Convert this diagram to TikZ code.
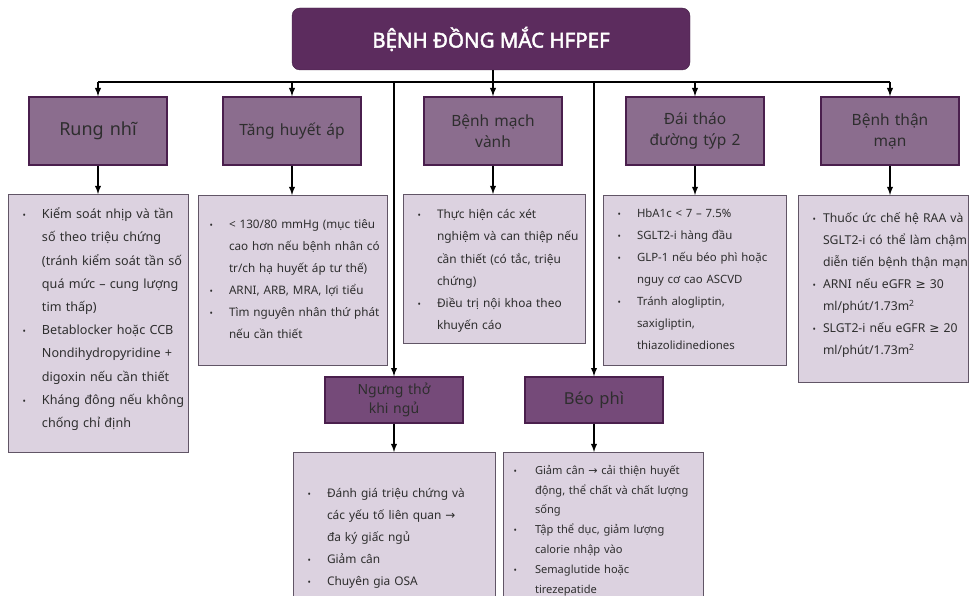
\documentclass[tikz,border=0pt]{standalone}
\usepackage{fontspec}
\setmainfont{Noto Sans}
\newfontfamily\titlefont[FakeBold=2.2]{Noto Sans}
\newfontfamily\symfont{DejaVu Sans}
\usepackage{enumitem}
\setlist[itemize]{nosep,leftmargin=34pt,labelsep=16pt,rightmargin=-30pt,label={\small\textbullet}}
\definecolor{titlepurple}{HTML}{5C2C5E}
\definecolor{headpurple}{HTML}{8B6D8E}
\definecolor{darkhead}{HTML}{754A79}
\definecolor{edgepurple}{HTML}{4A1F4D}
\definecolor{boxfill}{HTML}{DCD2E0}
\definecolor{boxedge}{HTML}{615566}
\definecolor{textgray}{HTML}{2E2E2E}
\newcommand{\toarrow}{{\symfont →}}
\newcommand{\geqsym}{{\symfont ≥}}
\begin{document}
\begin{tikzpicture}[x=1pt, y=-1pt, >=latex,
  title/.style={rectangle, rounded corners=8pt, fill=titlepurple, draw=titlepurple!70!black,
    minimum width=398pt, minimum height=62pt, text=white, font=\fontsize{20.5}{24}\titlefont},
  head/.style={rectangle, fill=headpurple, draw=edgepurple, line width=1.6pt,
    minimum width=138pt, minimum height=68pt, text width=130pt, align=center,
    text=textgray, font=\fontsize{15.5}{21}\selectfont},
  subhead/.style={head, fill=darkhead, minimum height=46pt, font=\fontsize{14}{19}\selectfont},
  info/.style={rectangle, fill=boxfill, draw=boxedge, line width=1pt, anchor=north,
    inner sep=0pt, text=textgray, align=left,
    font=\fontsize{12.6}{22}\selectfont},
  link/.style={line width=1.8pt}]
  \useasboundingbox (0,0) rectangle (970,596);
  \clip (0,0) rectangle (970,596);

  \node[title] (hfpef) at (491,39) {BỆNH ĐỒNG MẮC HFPEF};

  \node[head, font=\fontsize{18}{22}\selectfont] (rung) at (98,131) {Rung nhĩ};
  \node[head] (tha) at (292,131) {Tăng huyết áp};
  \node[head] (mv) at (493,131) {Bệnh mạch\\vành};
  \node[head] (dtd) at (695,131) {Đái tháo\\đường týp 2};
  \node[head] (than) at (890,131) {Bệnh thận\\mạn};
  \node[subhead] (ngung) at (394,400) {Ngưng thở\\khi ngủ};
  \node[subhead, font=\fontsize{16.5}{20}\selectfont] (beo) at (594,400) {Béo phì};

  \node[info, text width=180pt, text height=1pt, text depth=257pt,
    font=\fontsize{12.6}{23.2}\selectfont] (rungC) at (98,194) {%
    \begin{itemize}
    \item Kiểm soát nhịp và tần\\số theo triệu chứng\\(tránh kiểm soát tần số\\quá mức – cung lượng\\tim thấp)
    \item Betablocker hoặc CCB\\Nondihydropyridine +\\digoxin nếu cần thiết
    \item Kháng đông nếu không\\chống chỉ định
    \end{itemize}};
  \node[info, text width=189pt, text height=11pt, text depth=159pt,
    font=\fontsize{11.7}{22}\selectfont] (thaC) at (292.5,195) {%
    \begin{itemize}[leftmargin=31pt]
    \item < 130/80 mmHg (mục tiêu\\cao hơn nếu bệnh nhân có\\tr/ch hạ huyết áp tư thế)
    \item ARNI, ARB, MRA, lợi tiểu
    \item Tìm nguyên nhân thứ phát\\nếu cần thiết
    \end{itemize}};
  \node[info, text width=182pt, text height=2pt, text depth=147pt,
    font=\fontsize{11.9}{22.2}\selectfont] (mvC) at (494,194) {%
    \begin{itemize}
    \item Thực hiện các xét\\nghiệm và can thiệp nếu\\cần thiết (có tắc, triệu\\chứng)
    \item Điều trị nội khoa theo\\khuyến cáo
    \end{itemize}};
  \node[info, text width=183pt, text height=0pt, text depth=170pt,
    font=\fontsize{11.4}{22}\selectfont] (dtdC) at (694.5,195) {%
    \begin{itemize}
    \item HbA1c < 7 – 7.5\%
    \item SGLT2-i hàng đầu
    \item GLP-1 nếu béo phì hoặc\\nguy cơ cao ASCVD
    \item Tránh alogliptin,\\saxigliptin,\\thiazolidinediones
    \end{itemize}};
  \node[info, text width=170pt, text height=5pt, text depth=182pt,
    font=\fontsize{12.2}{22}\selectfont] (thanC) at (883,195) {%
    \begin{itemize}[leftmargin=25pt, labelsep=7pt]
    \item Thuốc ức chế hệ RAA và\\SGLT2-i có thể làm chậm\\diễn tiến bệnh thận mạn
    \item ARNI nếu eGFR \geqsym{} 30\\ml/phút/1.73m\textsuperscript{2}
    \item SLGT2-i nếu eGFR \geqsym{} 20\\ml/phút/1.73m\textsuperscript{2}
    \end{itemize}};
  \node[info, text width=202pt, text height=23pt, text depth=147pt,
    font=\fontsize{11.9}{22}\selectfont] (ngungC) at (394,452) {%
    \begin{itemize}
    \item Đánh giá triệu chứng và\\các yếu tố liên quan \toarrow\\đa ký giấc ngủ
    \item Giảm cân
    \item Chuyên gia OSA
    \end{itemize}};
  \node[info, text width=200pt, text height=2pt, text depth=168pt,
    font=\fontsize{11.1}{19.8}\selectfont] (beoC) at (603,452) {%
    \begin{itemize}[leftmargin=32pt, labelsep=18pt]
    \item Giảm cân \toarrow{} cải thiện huyết\\động, thể chất và chất lượng\\sống
    \item Tập thể dục, giảm lượng\\calorie nhập vào
    \item Semaglutide hoặc\\tirezepatide
    \end{itemize}};

  % bus under the title
  \coordinate (busL) at (rung.north |- 82,82);
  \coordinate (busR) at (than.north |- 82,82);
  \draw[link] (busL) -- (busR);
  \draw[link, ->] (hfpef.south -| mv.north) -- (mv.north);
  \draw[link, ->] (busL) -- (rung.north);
  \draw[link, ->] (tha.north |- busL) -- (tha.north);
  \draw[link, ->] (dtd.north |- busL) -- (dtd.north);
  \draw[link, ->] (busR) -- (than.north);
  \draw[link, ->] (ngung.north |- busL) -- (ngung.north);
  \draw[link, ->] (beo.north |- busL) -- (beo.north);

  \draw[link, ->] (rung.south) -- (rung.south |- rungC.north);
  \draw[link, ->] (tha.south) -- (tha.south |- thaC.north);
  \draw[link, ->] (mv.south) -- (mv.south |- mvC.north);
  \draw[link, ->] (dtd.south) -- (dtd.south |- dtdC.north);
  \draw[link, ->] (than.south) -- (than.south |- thanC.north);
  \draw[link, ->] (ngung.south) -- (ngung.south |- ngungC.north);
  \draw[link, ->] (beo.south) -- (beo.south |- beoC.north);
\end{tikzpicture}
\end{document}
